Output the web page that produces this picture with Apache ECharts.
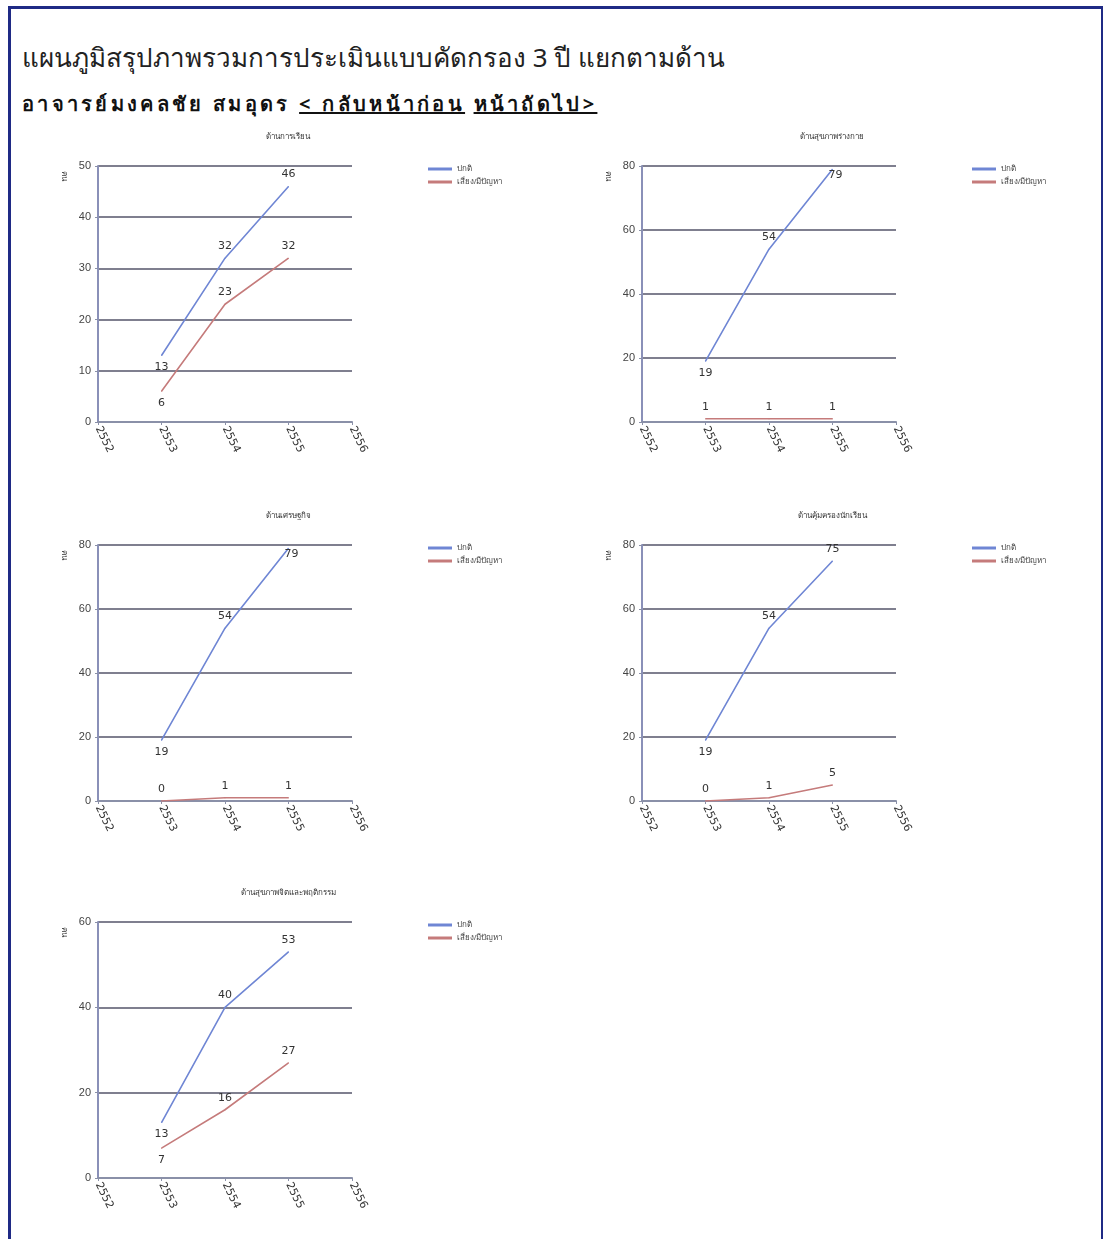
<!DOCTYPE html>
<html>
<head>
<meta charset="utf-8">
<script src="https://cdn.jsdelivr.net/npm/echarts@6/dist/echarts.min.js"></script>
<style>
  body { margin: 0; background: #fff; font-family: Tahoma, "Noto Sans", sans-serif; }
  .page { position: relative; width: 1103px; height: 1239px; overflow: hidden; }
  .frame { position: absolute; left: 8px; top: 6px; width: 1090px; height: 1260px; border: 3px solid #1f2a85; }
  .head { position: absolute; left: 22px; top: 37px; font-size: 26px; color: #222; white-space: nowrap; }
  .sub { position: absolute; left: 22px; top: 88px; font-size: 20px; letter-spacing: 3.3px; font-weight: bold; color: #111; white-space: nowrap; }
  .sub u { text-decoration: underline; }
  .box { position: absolute; width: 536px; height: 380px; }
</style>
</head>
<body>
<div class="page">
  <div class="frame"></div>
  <div class="head">แผนภูมิสรุปภาพรวมการประเมินแบบคัดกรอง 3 ปี แยกตามด้าน</div>
  <div class="sub">อาจารย์มงคลชัย สมอุดร <u>&lt; กลับหน้าก่อน</u> <u>หน้าถัดไป&gt;</u></div>
  <div id="c1" class="box" style="left:20px;top:120px"></div>
  <div id="c2" class="box" style="left:564px;top:120px"></div>
  <div id="c3" class="box" style="left:20px;top:499px"></div>
  <div id="c4" class="box" style="left:564px;top:499px"></div>
  <div id="c5" class="box" style="left:20px;top:876px"></div>
</div>
<script>
// ปีการศึกษา
const years = ["2552", "2553", "2554", "2555", "2556"];
const legendNames = ["ปกติ", "เสี่ยง/มีปัญหา"];
const chartTitles = [
  "ด้านการเรียน",
  "ด้านสุขภาพร่างกาย",
  "ด้านเศรษฐกิจ",
  "ด้านคุ้มครองนักเรียน",
  "ด้านสุขภาพจิตและพฤติกรรม",
];

// ปกติ
const normal1 = [null, 13, 32, 46, null];
const normal2 = [null, 19, 54, 79, null];
const normal3 = [null, 19, 54, 79, null];
const normal4 = [null, 19, 54, 75, null];
const normal5 = [null, 13, 40, 53, null];

// เสี่ยง/มีปัญหา
const risk1 = [null, 6, 23, 32, null];
const risk2 = [null, 1, 1, 1, null];
const risk3 = [null, 0, 1, 1, null];
const risk4 = [null, 0, 1, 5, null];
const risk5 = [null, 7, 16, 27, null];

const yMax = [50, 80, 80, 80, 60];
const yStep = [10, 20, 20, 20, 20];

const normals = [normal1, normal2, normal3, normal4, normal5];
const risks = [risk1, risk2, risk3, risk4, risk5];

/** ป้ายค่า: จุดแรกไว้ใต้เส้น, จุดที่ชิดขอบบนไว้ทับจุด */
const withLabels = (arr, isRisk, max) =>
  arr.map((v, i) => {
    if (v === null) return null;
    if (i === 1 && (!isRisk || v >= 5)) {
      return { value: v, label: { position: "bottom", distance: 6 } };
    }
    if (v / max > 0.95) {
      return { value: v, label: { position: "inside", offset: [3, 6] } };
    }
    return v;
  });

const makeSeries = (name, data, color) => ({
  name: name,
  type: "line",
  data: data,
  symbol: "circle",
  symbolSize: 1,
  connectNulls: false,
  lineStyle: { color: color, width: 1.6 },
  itemStyle: { color: color },
  label: {
    show: true,
    position: "top",
    distance: 6,
    fontSize: 11,
    color: "#333",
    fontFamily: "Tahoma, 'DejaVu Sans', sans-serif",
  },
  emphasis: { disabled: true },
});

const setChartOptions = (idx) => {
  const chart = echarts.init(document.getElementById("c" + (idx + 1)));
  const options = {
    animation: false,
    title: {
      text: chartTitles[idx],
      left: "center",
      top: 8,
      textStyle: { fontSize: 8, fontWeight: "normal", color: "#333" },
    },
    legend: {
      data: legendNames,
      orient: "vertical",
      left: 403,
      top: 40,
      itemGap: 5,
      icon: "rect",
      itemWidth: 24,
      itemHeight: 3,
      textStyle: { fontSize: 8, color: "#444" },
    },
    grid: { left: 78, top: 46, width: 254, height: 256 },
    xAxis: {
      type: "category",
      data: years,
      boundaryGap: false,
      axisLine: { lineStyle: { color: "#8a90a8", width: 2 } },
      axisTick: { show: true, length: 3, lineStyle: { color: "#8a90a8" } },
      axisLabel: {
        rotate: -64,
        fontSize: 11,
        color: "#333",
        margin: 5,
        fontFamily: "Tahoma, 'DejaVu Sans', sans-serif",
      },
      splitLine: { show: false },
    },
    yAxis: {
      type: "value",
      min: 0,
      max: yMax[idx],
      interval: yStep[idx],
      axisLine: { show: true, lineStyle: { color: "#8a90b8", width: 2 } },
      axisTick: { show: true, length: 3, lineStyle: { color: "#8a90a8" } },
      axisLabel: { fontSize: 11, color: "#444", margin: 7 },
      splitLine: { lineStyle: { color: "#55556a", width: 1.5 } },
    },
    graphic: [
      {
        type: "text",
        x: 44,
        y: 56,
        rotation: -Math.PI / 2,
        style: {
          text: "คน",
          fontSize: 8,
          fill: "#333",
          align: "center",
          verticalAlign: "middle",
        },
      },
    ],
    series: [
      makeSeries(legendNames[0], withLabels(normals[idx], false, yMax[idx]), "#6f86d4"),
      makeSeries(legendNames[1], withLabels(risks[idx], true, yMax[idx]), "#c57b7b"),
    ],
  };
  chart.setOption(options);
};

for (let i = 0; i < 5; i++) {
  setChartOptions(i);
}
</script>
</body>
</html>
